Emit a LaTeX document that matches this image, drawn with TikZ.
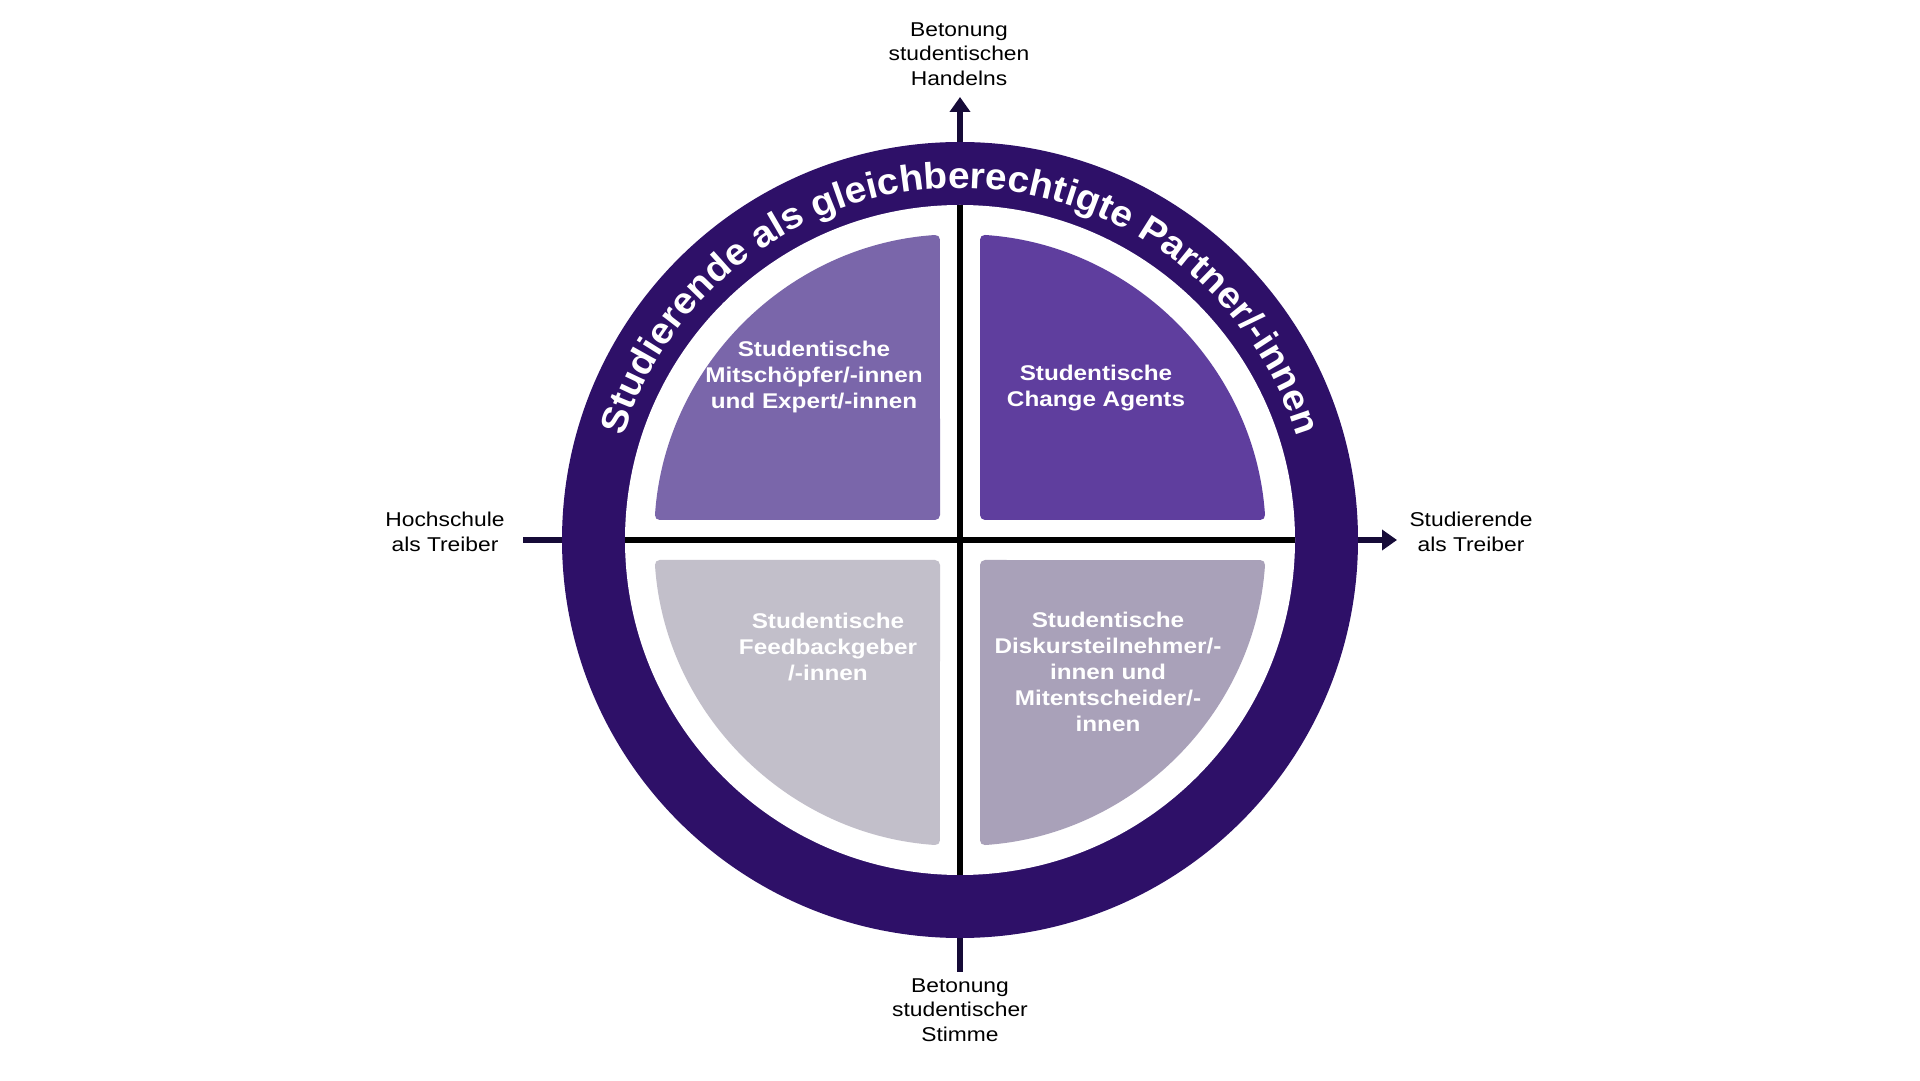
\documentclass[tikz,border=0pt]{standalone}
\usepackage{fontspec}
\setmainfont{Liberation Sans}
\newfontfamily\lblfont[FakeStretch=1.14]{Liberation Sans}
\newfontfamily\ringfam[FakeStretch=1.05]{Liberation Sans}
\usetikzlibrary{decorations.text,arrows.meta}
\definecolor{ringc}{HTML}{2E1068}
\definecolor{qtl}{HTML}{7A66AA}
\definecolor{qtr}{HTML}{5F3E9E}
\definecolor{qbl}{HTML}{C2BFCA}
\definecolor{qbr}{HTML}{A9A1B9}
\definecolor{axisc}{HTML}{160B38}
\newcommand\ringfont{\ringfam\bfseries\fontsize{37}{37}\selectfont}
\begin{document}
\begin{tikzpicture}[x=1pt,y=1pt,
  axislbl/.style={font=\lblfont\fontsize{20}{24.5}\selectfont, align=center, text=black, inner sep=0pt},
  quadlbl/.style={font=\lblfont\bfseries\fontsize{21.3}{26}\selectfont, align=center, text=white, inner sep=0pt},
  axisline/.style={draw=axisc, line width=6.5pt},
  crossline/.style={draw=black, line width=6pt},
  quad/.style={rounded corners=5pt}
]
\useasboundingbox (0,0) rectangle (1920,1080);
\fill[white] (0,0) rectangle (1920,1080);
\coordinate (c) at (960,540);
% ring
\fill[ringc] (c) circle[radius=398];
\fill[white] (c) circle[radius=335];
% quadrants
\fill[qtl, quad] (940,560) -- (654.65,560) arc[start angle=176.25, end angle=93.75, radius=306] -- cycle;
\fill[qtr, quad] (980,560) -- (980,845.35) arc[start angle=86.25, end angle=3.75, radius=306] -- cycle;
\fill[qbl, quad] (940,520) -- (654.65,520) arc[start angle=183.75, end angle=266.25, radius=306] -- cycle;
\fill[qbr, quad] (980,520) -- (980,234.65) arc[start angle=273.75, end angle=356.25, radius=306] -- cycle;
% cross
\coordinate (ct) at (960,875);
\coordinate (cb) at (960,205);
\coordinate (cl) at (625,540);
\coordinate (cr) at (1295,540);
\draw[crossline] (cb) -- (ct);
\draw[crossline] (cl) -- (cr);
% ring text
\path[decorate, decoration={text along path, text={|\ringfont|Studierende als gleichberechtigte Partner/-innen}, text align=center, text color=white}]
  ([shift={(180:352)}]c) arc[start angle=180, end angle=0, radius=352];
% axes
\coordinate (rt) at (960,938);
\coordinate (rb) at (960,142);
\coordinate (rl) at (562,540);
\coordinate (rr) at (1358,540);
\coordinate (tt) at (960,983);
\coordinate (tb) at (960,108);
\coordinate (tl) at (523,540);
\coordinate (tr) at (1397,540);
\draw[axisline, -{Triangle[length=15pt,width=20pt]}] (rt) -- (tt);
\draw[axisline, -{Triangle[length=15pt,width=20pt]}] (rr) -- (tr);
\draw[axisline] (rb) -- (tb);
\draw[axisline] (rl) -- (tl);
% axis labels
\node[axislbl] (lt) at (959,1026) {Betonung\\studentischen\\Handelns};
\node[axislbl] (lb) at (960,70) {Betonung\\studentischer\\Stimme};
\node[axislbl] (ll) at (445,548) {Hochschule\\als Treiber};
\node[axislbl] (lr) at (1471,548) {Studierende\\als Treiber};
% quadrant labels
\node[quadlbl] (qa) at (814,703) {Studentische\\Mitschöpfer/-innen\\und Expert/-innen};
\node[quadlbl] (qb) at (1096,692) {Studentische\\Change Agents};
\node[quadlbl] (qc) at (828,433) {Studentische\\Feedbackgeber\\/-innen};
\node[quadlbl] (qd) at (1108,408) {Studentische\\Diskursteilnehmer/-\\innen und\\Mitentscheider/-\\innen};
\end{tikzpicture}
\end{document}
